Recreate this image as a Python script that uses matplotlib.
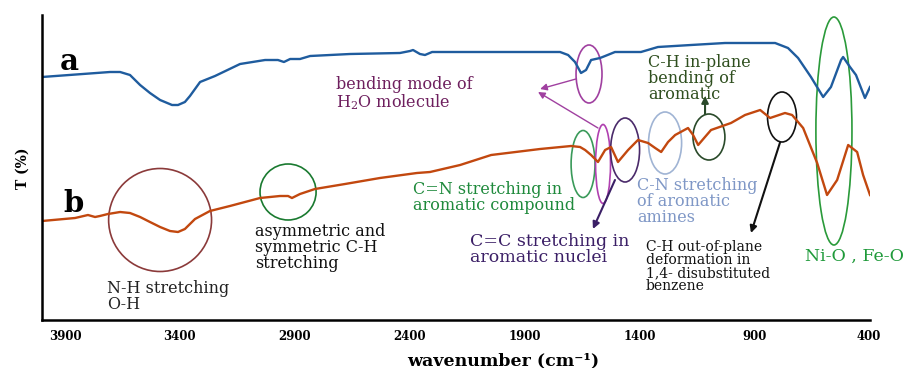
import matplotlib
matplotlib.use('Agg')
import matplotlib.pyplot as plt
from matplotlib.patches import Ellipse

plt.rcParams['font.family'] = ['DejaVu Serif', 'DejaVu Sans']
plt.rcParams['mathtext.fontset'] = 'dejavuserif'

# spectrum a (blue)
wn_a = [4000, 3704, 3660, 3617, 3573, 3530, 3486, 3434, 3408, 3378, 3356,
        3312, 3247, 3138, 3029, 2973, 2947, 2920, 2877, 2833, 2659, 2442,
        2398, 2385, 2355, 2333, 2302, 2180, 1972, 1745, 1710, 1680, 1654,
        1632, 1610, 1571, 1549, 1506, 1393, 1319, 1175, 1027, 809, 753,
        709, 653, 600, 566, 522, 513, 483, 457, 418, 396]
t_a = [243, 248, 248, 245, 235, 227, 220, 215, 215, 218, 224,
       238, 244, 256, 260, 260, 258, 261, 261, 264, 266, 267,
       269, 270, 266, 265, 268, 268, 268, 268, 265, 258, 247,
       250, 260, 262, 264, 268, 268, 273, 275, 277, 277, 272,
       262, 243, 223, 233, 260, 263, 253, 245, 222, 233]

# spectrum b (orange)
wn_b = [4000, 3856, 3800, 3769, 3748, 3713, 3660, 3617, 3573, 3530, 3486,
        3443, 3408, 3378, 3334, 3269, 3182, 3051, 2964, 2929, 2912, 2877,
        2812, 2681, 2529, 2368, 2311, 2180, 2045, 1832, 1697, 1658, 1636,
        1610, 1580, 1549, 1523, 1493, 1449, 1406, 1362, 1331, 1305, 1275,
        1244, 1188, 1166, 1144, 1118, 1088, 1001, 940, 874, 831, 766,
        735, 687, 626, 583, 539, 491, 452, 426, 396]
t_b = [99, 102, 105, 103, 104, 106, 108, 107, 103, 98, 93,
       89, 88, 91, 101, 109, 114, 122, 124, 124, 122, 126,
       131, 136, 142, 147, 148, 155, 165, 171, 174, 173, 170,
       165, 158, 170, 173, 158, 170, 180, 177, 172, 168, 178,
       185, 192, 185, 175, 182, 190, 197, 205, 210, 202, 207,
       205, 192, 157, 125, 140, 175, 168, 145, 125]

ticks = [3900, 3400, 2900, 2400, 1900, 1400, 900, 400]

fig = plt.figure(figsize=(9.18, 3.68), dpi=100)
ax = fig.add_axes([42 / 918, 1 - 320 / 368, 828 / 918, 305 / 368])

ax.plot(wn_a, t_a, color='#1f5c9e', lw=1.7)
ax.plot(wn_b, t_b, color='#c2480f', lw=1.7)

ax.set_xlim(4000, 396)
ax.set_ylim(0, 305)
ax.set_xticks(ticks)
ax.set_xticklabels([str(t) for t in ticks], fontsize=8.5, fontweight='bold')
ax.set_yticks([])
ax.tick_params(axis='x', length=0, pad=7)
for s in ['top', 'right']:
    ax.spines[s].set_visible(False)
for s in ['left', 'bottom']:
    ax.spines[s].set_linewidth(1.8)

fig.text(503 / 918, 1 - 365 / 368, 'wavenumber (cm⁻¹)', ha='center',
         va='baseline', fontsize=12.5, fontweight='bold')
fig.text(23 / 918, 1 - 168 / 368, 'T (%)', ha='center', va='center',
         rotation=90, fontsize=10, fontweight='bold')

ax.text(3922, 250, 'a', fontsize=21, fontweight='bold', va='baseline')
ax.text(3909, 108, 'b', fontsize=21, fontweight='bold', va='baseline')

# ellipses marking the bands: (centre wn, centre T, width, height, colour)
rings = [
    (3486, 100, 448, 103, '#8b3a3a'),
    (2929, 128, 244, 56, '#1a7a30'),
    (1619, 246, 113, 58, '#a040a0'),
    (1645, 156, 104, 67, '#3a9a5a'),
    (1558, 156, 65, 79, '#b040b0'),
    (1462, 170, 126, 64, '#4a2a6a'),
    (1288, 177, 144, 62, '#a0b4d4'),
    (1097, 183, 139, 46, '#2a4a2a'),
    (779, 203, 126, 50, '#111111'),
    (553, 189, 157, 228, '#2a9a3a'),
]
for x, y, w, h, c in rings:
    ax.add_patch(Ellipse((x, y), w, h, fill=False, edgecolor=c, lw=1.2,
                         clip_on=False))

# arrows
arrows = [
    ((1676, 241), (1832, 231), '#a040a0', 1.0),
    ((1580, 192), (1841, 228), '#a040a0', 1.0),
    ((1114, 206), (1114, 224), '#2a4a2a', 1.5),
    ((1506, 140), (1602, 91), '#3b1f66', 1.5),
    ((787, 178), (914, 87), '#111111', 1.5),
]
for (x0, y0), (x1, y1), c, lw in arrows:
    ax.annotate('', xy=(x1, y1), xytext=(x0, y0),
                arrowprops=dict(arrowstyle='-|>', color=c, lw=lw,
                                mutation_scale=10, shrinkA=0, shrinkB=0))

txt = dict(fontsize=11.5, va='top', linespacing=0.92)
ax.text(2720, 244, 'bending mode of\nH$_2$O molecule', color='#6e1f5e', **txt)
ax.text(2385, 139, 'C=N stretching in\naromatic compound', color='#1f8a3c', **txt)
ax.text(1362, 266, 'C-H in-plane\nbending of\naromatic', color='#2f4f1f', **txt)
ax.text(1410, 143, 'C-N stretching\nof aromatic\namines', color='#7f97c6', **txt)
ax.text(2137, 87, 'C=C stretching in\naromatic nuclei', color='#3b1f66',
        fontsize=12.5, va='top', linespacing=0.92)
ax.text(1371, 80, 'C-H out-of-plane\ndeformation in\n1,4- disubstituted\nbenzene',
        color='#111111', fontsize=10, va='top', linespacing=0.9)
ax.text(679, 72, 'Ni-O , Fe-O', color='#1f9a3a', fontsize=12.5, va='top',
        clip_on=False)
ax.text(3717, 40, 'N-H stretching\nO-H', color='#222222', **txt)
ax.text(3073, 97, 'asymmetric and\nsymmetric C-H\nstretching', color='#111111', **txt)

fig.savefig('out.png', dpi=100)
